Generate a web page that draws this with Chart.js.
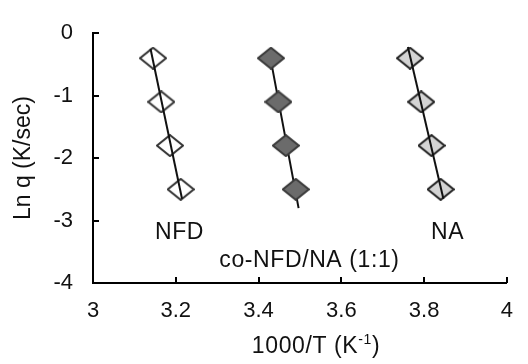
<!DOCTYPE html>
<html>
<head>
<meta charset="utf-8">
<script src="https://cdn.jsdelivr.net/npm/chart.js@4"></script>
<style>
  html, body { margin: 0; padding: 0; background: #fff; }
  #wrap { width: 528px; height: 364px; }
</style>
</head>
<body>
<div id="wrap"><canvas id="chart" width="528" height="364"></canvas></div>
<script>
// values
const lnQ = [-0.4, -1.1, -1.8, -2.5];
const nfdX = [3.145, 3.165, 3.186, 3.212];
const coX = [3.430, 3.448, 3.466, 3.490];
const naX = [3.766, 3.793, 3.818, 3.840];
// y range covered by each fitted line
const lineTop = [-0.25, -0.4, -0.22];
const lineBottom = [-2.65, -2.8, -2.65];
const xTicks = [3, 3.2, 3.4, 3.6, 3.8, 4];
const yTicks = [0, -1, -2, -3, -4];

const FONT = 'Liberation Sans, Arial, sans-serif';

// least squares fit of x on y, drawn between the given y limits
function fitLine(xs, ys, yA, yB) {
    const n = xs.length;
    const my = ys.reduce((a, b) => a + b, 0) / n;
    const mx = xs.reduce((a, b) => a + b, 0) / n;
    let sxy = 0, syy = 0;
    for (let i = 0; i < n; i++) {
        sxy += (ys[i] - my) * (xs[i] - mx);
        syy += (ys[i] - my) * (ys[i] - my);
    }
    const b = sxy / syy;
    const a = mx - b * my;
    return [{x: a + b * yA, y: yA}, {x: a + b * yB, y: yB}];
}

function diamond(fill, stroke) {
    const w = 28, h = 23;
    const c = document.createElement('canvas');
    c.width = w; c.height = h;
    const g = c.getContext('2d');
    g.beginPath();
    g.moveTo(w / 2, 1);
    g.lineTo(w - 1, h / 2);
    g.lineTo(w / 2, h - 1);
    g.lineTo(1, h / 2);
    g.closePath();
    g.fillStyle = fill;
    g.fill();
    g.lineWidth = 2;
    g.strokeStyle = stroke;
    g.stroke();
    return c;
}

const pts = xs => xs.map((x, i) => ({x: x, y: lnQ[i]}));

function pointSet(xs, img, order) {
    return {
        type: 'scatter',
        data: pts(xs),
        pointStyle: img,
        pointRadius: 12,
        showLine: false,
        order: order
    };
}

function lineSet(xs, k, order) {
    return {
        type: 'line',
        data: fitLine(xs, lnQ, lineTop[k], lineBottom[k]),
        borderColor: '#111',
        borderWidth: 2,
        pointRadius: 0,
        fill: false,
        order: order
    };
}

const labelsPlugin = {
    id: 'extras',
    afterDraw(chart) {
        const ctx = chart.ctx;
        const xs = chart.scales.x, ys = chart.scales.y;
        const area = chart.chartArea;
        const opts = chart.options.plugins.extras;
        ctx.save();
        // inside tick marks
        ctx.strokeStyle = '#000';
        ctx.lineWidth = 2;
        ctx.beginPath();
        yTicks.forEach(v => {
            const py = Math.round(ys.getPixelForValue(v));
            ctx.moveTo(area.left, py);
            ctx.lineTo(area.left + 6, py);
        });
        xTicks.forEach(v => {
            const px = Math.round(xs.getPixelForValue(v));
            ctx.moveTo(px, area.bottom);
            ctx.lineTo(px, area.bottom - 6);
        });
        ctx.stroke();

        ctx.letterSpacing = '0.6px';
        // series names
        ctx.fillStyle = '#111';
        ctx.font = '23px ' + FONT;
        ctx.textAlign = 'center';
        ctx.textBaseline = 'middle';
        opts.names.forEach(n => {
            ctx.fillText(n.text, xs.getPixelForValue(n.x), ys.getPixelForValue(n.y));
        });

        // x title with superscript
        const main = '1000/T (K', sup = '-1', end = ')';
        ctx.textAlign = 'left';
        ctx.textBaseline = 'alphabetic';
        ctx.font = '23px ' + FONT;
        const w1 = ctx.measureText(main).width;
        const w3 = ctx.measureText(end).width;
        ctx.font = '14px ' + FONT;
        const w2 = ctx.measureText(sup).width;
        const x0 = opts.titleX - (w1 + w2 + w3) / 2;
        const base = opts.titleY;
        ctx.font = '23px ' + FONT;
        ctx.fillText(main, x0, base);
        ctx.font = '14px ' + FONT;
        ctx.fillText(sup, x0 + w1, base - 9);
        ctx.font = '23px ' + FONT;
        ctx.fillText(end, x0 + w1 + w2, base);
        ctx.restore();
    }
};

new Chart(document.getElementById('chart').getContext('2d'), {
    data: {
        datasets: [
            pointSet(nfdX, diamond('#fff', '#333'), 2),
            lineSet(nfdX, 0, 1),
            lineSet(coX, 1, 3),
            pointSet(coX, diamond('#6b6b6b', '#3a3a3a'), 2),
            pointSet(naX, diamond('#d4d4d4', '#222'), 2),
            lineSet(naX, 2, 1)
        ]
    },
    options: {
        responsive: false,
        animation: false,
        layout: {padding: {top: 18, right: 9, left: 0, bottom: 0}},
        plugins: {
            legend: {display: false},
            tooltip: {enabled: false},
            extras: {
                names: [
                    {text: 'NFD', x: 3.209, y: -3.19},
                    {text: 'co-NFD/NA (1:1)', x: 3.523, y: -3.64},
                    {text: 'NA', x: 3.857, y: -3.19}
                ],
                titleX: 316,
                titleY: 353
            }
        },
        scales: {
            x: {
                type: 'linear',
                min: 3,
                max: 4,
                afterBuildTicks: s => { s.ticks = xTicks.map(v => ({value: v})); },
                afterFit: s => { s.height = 81; },
                grid: {display: false, drawTicks: false},
                border: {display: true, color: '#000', width: 2},
                ticks: {
                    color: '#111',
                    padding: 15,
                    font: {family: FONT, size: 22},
                    callback: v => String(v)
                }
            },
            y: {
                type: 'linear',
                min: -4,
                max: 0,
                afterBuildTicks: s => { s.ticks = yTicks.map(v => ({value: v})); },
                afterFit: s => { s.width = 93; },
                grid: {display: false, drawTicks: false},
                border: {display: true, color: '#000', width: 2},
                ticks: {
                    color: '#111',
                    padding: 20,
                    font: {family: FONT, size: 22},
                    callback: v => String(v)
                },
                title: {
                    display: true,
                    text: 'Ln q (K/sec)',
                    color: '#111',
                    font: {family: FONT, size: 23},
                    padding: {top: 10, bottom: 0}
                }
            }
        }
    },
    plugins: [labelsPlugin]
});
</script>
</body>
</html>
